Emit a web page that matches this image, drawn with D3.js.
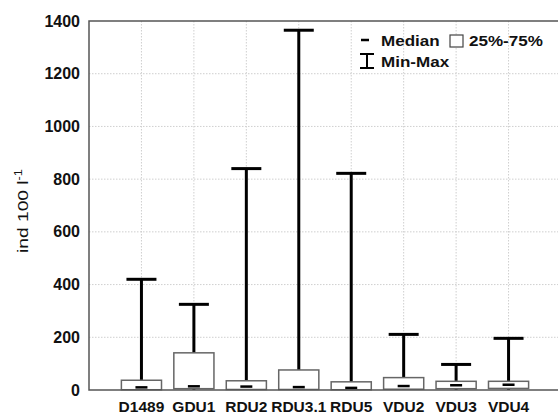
<!DOCTYPE html>
<html>
<head>
<meta charset="utf-8">
<script src="https://cdn.jsdelivr.net/npm/d3@7"></script>
<style>
  html, body { margin: 0; padding: 0; background: #fff; }
  svg { display: block; }
  text { font-family: "Liberation Sans", Arial, sans-serif; }
</style>
</head>
<body>
<svg id="chart" width="558" height="414"></svg>
<script>
// Sampling stations and their summary statistics (ind 100 l^-1)
const categories = ["D1489", "GDU1", "RDU2", "RDU3.1", "RDU5", "VDU2", "VDU3", "VDU4"];
const minVals    = [0, 0, 0, 0, 0, 0, 0, 0];
const q1Vals     = [1, 5, 2, 2, 1, 3, 5, 6];
const medianVals = [10, 14, 13, 11, 8, 15, 18, 20];
const q3Vals     = [37, 141, 35, 76, 31, 47, 33, 33];
const maxVals    = [420, 325, 840, 1365, 822, 211, 97, 196];
const yTicks     = [0, 200, 400, 600, 800, 1000, 1200, 1400];

const svg = d3.select("#chart");
const plotL = 89, plotT = 21, plotB = 390, plotR = 561;

// categories sit at integer positions 1..n on a 0..n+1 axis
const x = d3.scaleLinear().domain([0, categories.length + 1]).range([plotL, plotR]);
const y = d3.scaleLinear().domain([0, 1400]).range([plotB, plotT]);
const step = x(1) - x(0);
const boxW = step * 0.765;
const capW = 30;
const medW = 12;

const rows = categories.map((c, i) => ({
  name: c, pos: i + 1,
  min: minVals[i], q1: q1Vals[i], med: medianVals[i], q3: q3Vals[i], max: maxVals[i]
}));

// dotted grid
const grid = svg.append("g").attr("stroke", "#cfcfcf").attr("stroke-width", 1)
  .attr("stroke-dasharray", "1.5,1.5");
grid.selectAll("line.h").data(yTicks.slice(1, -1)).join("line")
  .attr("x1", plotL).attr("x2", plotR)
  .attr("y1", d => y(d)).attr("y2", d => y(d));
grid.selectAll("line.v").data(rows).join("line")
  .attr("x1", d => x(d.pos)).attr("x2", d => x(d.pos))
  .attr("y1", plotT).attr("y2", plotB);

// whiskers (min to max) with caps
const wh = svg.append("g").attr("stroke", "#000").attr("stroke-width", 3);
wh.selectAll("line.stem").data(rows).join("line")
  .attr("x1", d => x(d.pos)).attr("x2", d => x(d.pos))
  .attr("y1", d => y(d.min)).attr("y2", d => y(d.max));
wh.selectAll("line.cap").data(rows).join("line")
  .attr("x1", d => x(d.pos) - capW / 2).attr("x2", d => x(d.pos) + capW / 2)
  .attr("y1", d => y(d.max)).attr("y2", d => y(d.max));

// interquartile boxes
svg.append("g").selectAll("rect").data(rows).join("rect")
  .attr("x", d => x(d.pos) - boxW / 2)
  .attr("width", boxW)
  .attr("y", d => y(d.q3))
  .attr("height", d => y(d.q1) - y(d.q3))
  .attr("fill", "#fff").attr("stroke", "#666").attr("stroke-width", 1.5);

// medians
svg.append("g").attr("stroke", "#000").attr("stroke-width", 2.5)
  .selectAll("line").data(rows).join("line")
  .attr("x1", d => x(d.pos) - medW / 2).attr("x2", d => x(d.pos) + medW / 2)
  .attr("y1", d => y(d.med)).attr("y2", d => y(d.med));

// frame: left, bottom, top
const frame = svg.append("g").attr("stroke", "#555").attr("stroke-width", 1.5).attr("fill", "none");
frame.append("path").attr("d", `M${plotR},${plotT}H${plotL}V${plotB}H${plotR}`);

// y tick labels
svg.append("g").selectAll("text").data(yTicks).join("text")
  .attr("x", 80).attr("y", d => y(d))
  .attr("dy", "0.35em").attr("text-anchor", "end")
  .attr("font-size", 16).attr("font-weight", "bold").attr("fill", "#111")
  .text(d => d);

// x category labels
svg.append("g").selectAll("text").data(rows).join("text")
  .attr("x", d => x(d.pos)).attr("y", 412)
  .attr("text-anchor", "middle")
  .attr("font-size", 15.5).attr("font-weight", "bold").attr("fill", "#111")
  .text(d => d.name);

// y axis title (slightly widened lettering)
const yt = svg.append("text")
  .attr("transform", "translate(28,211) rotate(-90) scale(1.28,1)")
  .attr("text-anchor", "middle")
  .attr("font-size", 15).attr("fill", "#111");
yt.append("tspan").text("ind 100 l");
yt.append("tspan").attr("dy", -6).attr("font-size", 10).text("-1");

// legend
const lg = svg.append("g");
const legendText = (tx, ty, s) => lg.append("text")
  .attr("transform", `translate(${tx},${ty}) scale(1.1,1)`)
  .attr("font-size", 15.5).attr("font-weight", "bold").attr("fill", "#111").text(s);
lg.append("line").attr("x1", 361).attr("x2", 369).attr("y1", 40).attr("y2", 40)
  .attr("stroke", "#000").attr("stroke-width", 2.5);
legendText(381, 46, "Median");
lg.append("rect").attr("x", 450).attr("y", 35).attr("width", 13).attr("height", 12)
  .attr("fill", "#fff").attr("stroke", "#444").attr("stroke-width", 1.2);
legendText(469, 46, "25%-75%");
const ib = lg.append("g").attr("stroke", "#000").attr("stroke-width", 2);
ib.append("line").attr("x1", 367).attr("x2", 367).attr("y1", 54).attr("y2", 68);
ib.append("line").attr("x1", 360).attr("x2", 374).attr("y1", 54).attr("y2", 54);
ib.append("line").attr("x1", 360).attr("x2", 374).attr("y1", 68).attr("y2", 68);
legendText(381, 67, "Min-Max");
</script>
</body>
</html>
